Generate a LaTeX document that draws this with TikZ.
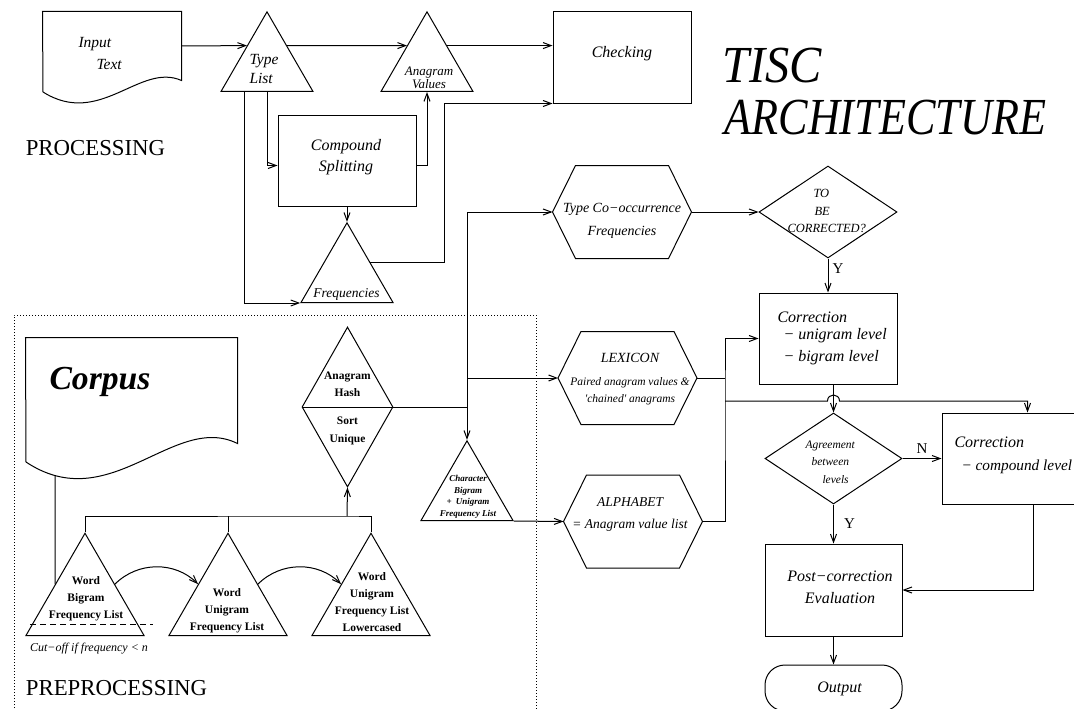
\documentclass[tikz,border=0pt]{standalone}
\usepackage{fontspec}
\usepackage{graphicx}
\setmainfont{Liberation Serif}
\usetikzlibrary{arrows.meta, shapes.geometric, calc}
\newcommand{\fsz}[2]{\fontsize{#1}{#2}\selectfont}

\begin{document}
\begin{tikzpicture}[
    x=1pt, y=-1pt, line width=1pt,
    arr/.style={-{Straight Barb[length=8pt, width=6pt]}},
    box/.style={rectangle, draw, minimum width=138pt, minimum height=91pt, inner sep=0pt},
    tri/.style={regular polygon, regular polygon sides=3, draw, inner sep=0pt, minimum size=106.2pt, anchor=side 2},
    bigtri/.style={tri, minimum size=136.3pt},
    dia/.style={diamond, draw, inner sep=0pt},
    hexcore/.style={rectangle, minimum width=92pt, minimum height=92pt, inner sep=0pt},
    docnode/.style={rectangle, inner sep=0pt},
    txt/.style={inner sep=0pt, align=center},
    lefttxt/.style={inner sep=0pt, align=left, anchor=west},
    wordtxt/.style={txt, font=\fsz{11.5}{17}\bfseries},
    ynlabel/.style={inner sep=0pt, font=\fsz{15}{18}}
]
\useasboundingbox (0,0) rectangle (1074,709);

% processing part
\node[docnode, minimum width=138pt, minimum height=68pt] (input) at (112,46) {};
\draw (input.north west) -- (43,92) .. controls (100,128) and (140,62) .. (input.south east) -- (input.north east) -- cycle;
\node[lefttxt, font=\fsz{15.5}{22}\itshape] (input-txt) at (78,54) {Input\\\hspace{18pt}Text};

\node[tri] (typelist) at (267,92) {};
\node[lefttxt, font=\fsz{15.5}{19}\itshape] (typelist-txt) at (249,69) {Type\\List};
\node[tri] (anagram) at (427,92) {};
\node[txt, font=\fsz{13}{11}\itshape] (anagram-txt) at (429,78) {Anagram\\Values};
\node[box] (checking) at (622,57.5) {};
\node[txt, font=\fsz{16}{20}\itshape] (checking-txt) at (622,54) {Checking};
\node[box] (compound) at (347,160.5) {};
\node[txt, font=\fsz{16}{21}\itshape] (compound-txt) at (346,157) {Compound\\Splitting};
\node[tri] (freq) at (347,303) {};
\node[txt, font=\fsz{13.5}{16}\itshape] (freq-txt) at (346.5,294) {Frequencies};

\node[txt, font=\fsz{22.8}{26}] (proc) at (95.5,148) {PROCESSING};
\node[txt, anchor=base west, font=\fsz{52}{56}\itshape] (tisc) at (722,82) {\scalebox{0.93}[1]{TISC}};
\node[txt, anchor=base west, font=\fsz{52}{56}\itshape] (archi) at (724,134) {\scalebox{0.85}[1]{ARCHITECTURE}};

\draw[arr] (input.east) -- (typelist.136);
\draw[arr] (typelist.44) -- (anagram.136);
\draw[arr] (anagram.44) -- (anagram.44 -| checking.west);
\draw[arr] (typelist.side 2) |- ([yshift=-5pt]compound.west);
\draw[arr] ([xshift=24pt]typelist.corner 2) |- (freq.corner 2);
\draw[arr] ([yshift=-5pt]compound.east) -| (anagram.side 2);
\draw[arr] (compound.south) -- (freq.corner 1);
\draw[arr] (freq.side 3) -- ++(74,0) |- (checking.south west);

% hexagons
\node[hexcore] (cooc) at (622,212) {};
\node[hexcore] (lexicon) at (627.5,378) {};
\node[hexcore] (alphabet) at (633,521.5) {};
\foreach \h in {cooc,lexicon,alphabet}{
  \draw (\h.north west) -- (\h.north east) -- ([xshift=23pt]\h.east) coordinate (\h-r)
    -- (\h.south east) -- (\h.south west) -- ([xshift=-23pt]\h.west) coordinate (\h-l) -- cycle;
}
\node[txt, font=\fsz{14}{23}\itshape] (cooc-txt) at (622,221) {Type Co−occurrence\\Frequencies};
\node[txt, font=\fsz{11.5}{17}\itshape] (lexicon-txt) at (630,379) {{\fsz{14}{17}LEXICON}\\[6pt]Paired anagram values \&\\\textquotesingle chained\textquotesingle\ anagrams};
\node[txt, font=\fsz{13.5}{22}\itshape] (alphabet-txt) at (630,514) {ALPHABET\\= Anagram value list};

% correction part
\node[dia, minimum width=138pt, minimum height=92pt] (tbc) at (828,212) {};
\node[lefttxt, font=\fsz{12.5}{17.5}\itshape] (tbc-txt) at (787,211) {\hspace{26pt}TO\\\hspace{27pt}BE\\CORRECTED?};
\node[box] (corr1) at (828,338.5) {};
\node[lefttxt, font=\fsz{16}{17}\itshape] (corr1-txt) at (777,338) {Correction\\\hspace{6pt}− unigram level\\[5pt]\hspace{6pt}− bigram level};
\node[dia, minimum width=137pt, minimum height=91pt] (agree) at (833.5,458.5) {};
\node[lefttxt, font=\fsz{11.5}{17.5}\itshape] (agree-txt) at (805,462) {Agreement\\\hspace{6pt}between\\\hspace{17pt}levels};
\node[box, minimum width=150pt] (corr2) at (1017,458.5) {};
\node[lefttxt, font=\fsz{16}{23}\itshape] (corr2-txt) at (954,455) {Correction\\\hspace{7pt}{\fsz{15.3}{23}− compound level}};
\node[box, minimum width=137pt, minimum height=92pt] (post) at (833.5,590) {};
\node[txt, font=\fsz{16}{22}\itshape] (post-txt) at (840,587) {Post−correction\\Evaluation};
\node[rectangle, draw, rounded corners=20pt, minimum width=137pt, minimum height=46pt] (output) at (833.5,688) {};
\node[txt, font=\fsz{16}{20}\itshape] (output-txt) at (839.5,689) {Output};

\coordinate (join) at (725,401);
\coordinate (cross) at (agree.north |- join);

\draw[arr] (cooc-r) -- (tbc.west);
\draw[arr] (tbc.south) -- node[ynlabel, right=4pt, pos=0.3] (y1) {Y} (corr1.north);
\draw (lexicon-r) -- (lexicon-r -| join);
\draw[arr] (alphabet-r) -| (join) |- (corr1.west);
\draw[arr] (join) -- ([xshift=-6pt]cross) .. controls ([shift={(-6,-8)}]cross) and ([shift={(6,-8)}]cross) .. ([xshift=6pt]cross) -| ([xshift=86pt]corr2.north west);
\draw[arr] (corr1.south -| agree.north) -- (agree.north);
\draw[arr] (agree.east) -- node[ynlabel, above=5pt] (n1) {N} (agree.east -| corr2.west);
\draw[arr] (agree.south) -- node[ynlabel, right=10pt] (y2) {Y} (post.north);
\draw[arr] ([xshift=92pt]corr2.south west) |- (post.east);
\draw[arr] (post.south) -- (output.north);

% preprocessing part
\draw[dotted] (14,720) |- (536,315) -- (536,720);
\node[docnode, minimum width=211pt, minimum height=105pt] (corpus) at (131.5,390.5) {};
\draw (corpus.north west) -- (26,462) .. controls (110,518) and (174,412) .. (corpus.south east) -- (corpus.north east) -- cycle;
\node[txt, font=\fsz{33.6}{38}\bfseries\itshape] (corpus-txt) at (100,382) {Corpus};
\coordinate (corpusfoot) at (55,476);

\node[dia, minimum width=91pt, minimum height=160pt] (hash) at (347.5,407) {};
\draw (hash.west) -- (hash.east);
\node[txt, font=\fsz{11.5}{17.5}\bfseries] (hash-txt) at (347.5,408) {Anagram\\Hash\\[10.5pt]Sort\\Unique};

\node[bigtri] (bigram) at (85,636) {};
\node[bigtri] (unigram) at (228,636) {};
\node[bigtri] (lower) at (371,636) {};
\node[wordtxt] (bigram-txt) at (86,599) {Word\\Bigram\\Frequency List};
\node[wordtxt] (unigram-txt) at (227,611) {Word\\Unigram\\Frequency List};
\node[wordtxt] (lower-txt) at (372,602) {Word\\Unigram\\Frequency List\\Lowercased};
\node[tri] (chartri) at (467,521) {};
\node[txt, font=\fsz{9}{11.5}\bfseries\itshape] (chartri-txt) at (468,497) {Character\\Bigram\\+\hspace{4pt}Unigram\\Frequency List};

\draw[dash pattern=on 6pt off 4pt] (30,624) -- (153,624);
\node[txt, font=\fsz{12}{14}\itshape] (cutoff) at (89,649) {Cut−off if frequency < n};
\node[txt, font=\fsz{22.8}{26}] (preproc) at (116.5,688) {PREPROCESSING};

\coordinate (bus) at (347,516);
\draw (corpusfoot) -- (bigram.side 1);
\draw (bigram.corner 1) |- (bus) -| (lower.corner 1);
\draw (unigram.corner 1) -- (unigram.corner 1 |- bus);
\draw[arr] (bus) -- (hash.south);
\draw[arr] (bigram.side 3) to[bend left=45] (unigram.side 1);
\draw[arr] (unigram.side 3) to[bend left=45] (lower.side 1);

\draw[arr] (hash.east) -| (chartri.corner 1);
\draw[arr] (chartri.corner 1 |- hash.east) |- (cooc-l);
\draw[arr] (chartri.corner 1 |- lexicon-l) -- (lexicon-l);
\draw[arr] (chartri.corner 3) -- (alphabet-l);
\end{tikzpicture}
\end{document}
